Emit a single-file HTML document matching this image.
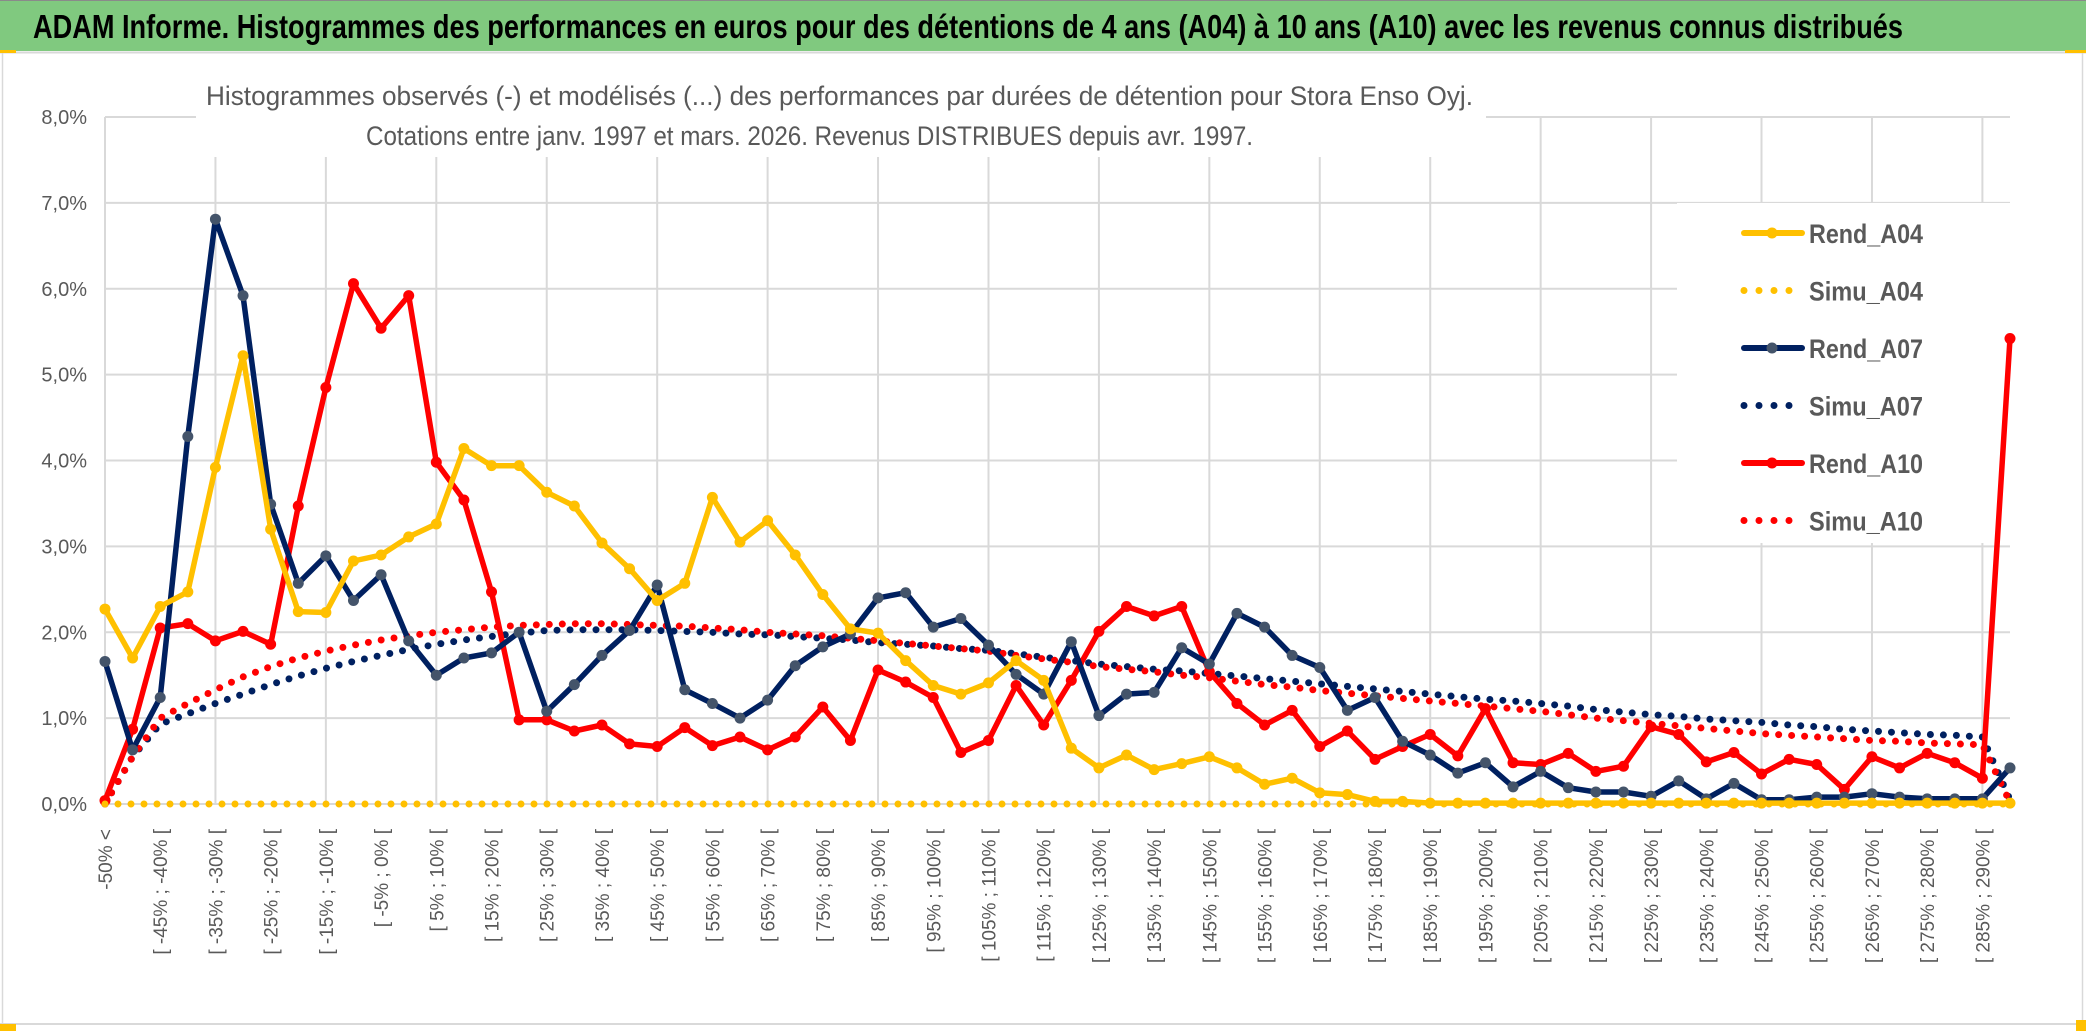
<!DOCTYPE html>
<html><head><meta charset="utf-8"><style>
html,body{margin:0;padding:0;background:#fff;}
svg{display:block;}
text{font-family:"Liberation Sans",sans-serif;}
</style></head><body>
<svg id="chart" xmlns="http://www.w3.org/2000/svg" width="2086" height="1031" viewBox="0 0 2086 1031">
<rect x="0" y="0" width="2086" height="1031" fill="#fff"/>
<rect x="0" y="0" width="2086" height="51" fill="#80C97F"/>
<line x1="0" y1="0.5" x2="2086" y2="0.5" stroke="#8a8a8a" stroke-width="1"/>
<line x1="0" y1="52.5" x2="2086" y2="52.5" stroke="#d9d9d9" stroke-width="2"/>
<rect x="0" y="50" width="16" height="3" fill="#FFC000"/>
<rect x="2065" y="50" width="21" height="3" fill="#FFC000"/>
<line x1="2.5" y1="53" x2="2.5" y2="1024" stroke="#d9d9d9" stroke-width="1.5"/>
<line x1="2082.5" y1="53" x2="2082.5" y2="1024" stroke="#d9d9d9" stroke-width="1.5"/>
<line x1="0" y1="1024" x2="2086" y2="1024" stroke="#d9d9d9" stroke-width="2"/>
<rect x="0" y="1024" width="16" height="7" fill="#FFC000"/>
<rect x="2076" y="1020" width="10" height="11" fill="#FFC000"/>
<text x="33" y="38" font-size="33" font-weight="bold" fill="#000" textLength="1870" lengthAdjust="spacingAndGlyphs">ADAM Informe. Histogrammes des performances en euros pour des détentions de 4 ans (A04) à 10 ans (A10) avec les revenus connus distribués</text>
<g id="grid"></g>
<rect x="196" y="75" width="1290" height="82" fill="#fff"/>
<text x="206" y="105" font-size="27" fill="#595959" textLength="1267" lengthAdjust="spacingAndGlyphs">Histogrammes observés (-) et modélisés (...) des performances par durées de détention pour Stora Enso Oyj.</text>
<text x="366" y="145" font-size="27" fill="#595959" textLength="887" lengthAdjust="spacingAndGlyphs">Cotations entre janv. 1997 et mars. 2026. Revenus DISTRIBUES depuis avr. 1997.</text>
<g id="yticks"></g>
<g id="xticks"></g>
<rect x="1677" y="203" width="335" height="340" fill="#fff"/>
<g id="series"></g>
<g id="legend"></g>
</svg>
<script>
const categoryCount = 70;
const yTicks = [0,1,2,3,4,5,6,7,8];
const rendA04 = [2.27,1.70,2.30,2.47,3.92,5.22,3.20,2.24,2.23,2.83,2.90,3.11,3.26,4.14,3.94,3.94,3.63,3.47,3.04,2.74,2.37,2.57,3.57,3.05,3.30,2.90,2.44,2.04,1.99,1.67,1.38,1.28,1.41,1.67,1.44,0.65,0.42,0.57,0.40,0.47,0.55,0.42,0.23,0.30,0.13,0.11,0.03,0.03,0.01,0.01,0.01,0.01,0.01,0.01,0.01,0.01,0.01,0.01,0.01,0.01,0.01,0.01,0.01,0.01,0.01,0.01,0.01,0.01,0.01,0.01];
const simuA04 = [0,0,0,0,0,0,0,0,0,0,0,0,0,0,0,0,0,0,0,0,0,0,0,0,0,0,0,0,0,0,0,0,0,0,0,0,0,0,0,0,0,0,0,0,0,0,0,0,0,0,0,0,0,0,0,0,0,0,0,0,0,0,0,0,0,0,0,0,0,0];
const rendA07 = [1.66,0.63,1.24,4.28,6.81,5.92,3.49,2.57,2.89,2.37,2.67,1.90,1.50,1.70,1.76,2.00,1.08,1.39,1.73,2.02,2.55,1.33,1.17,1.00,1.21,1.61,1.83,1.98,2.40,2.46,2.06,2.16,1.85,1.51,1.28,1.89,1.03,1.28,1.30,1.82,1.63,2.22,2.06,1.73,1.59,1.09,1.24,0.73,0.57,0.36,0.48,0.20,0.38,0.19,0.14,0.14,0.09,0.27,0.06,0.24,0.05,0.05,0.08,0.08,0.12,0.08,0.06,0.06,0.06,0.42];
const simuA07 = [0,0.55,0.93,1.05,1.17,1.28,1.39,1.49,1.58,1.66,1.73,1.80,1.86,1.91,1.95,1.99,2.02,2.03,2.03,2.03,2.02,2.01,2.00,1.98,1.97,1.95,1.93,1.91,1.88,1.86,1.84,1.81,1.79,1.75,1.71,1.67,1.63,1.60,1.57,1.55,1.52,1.49,1.46,1.43,1.40,1.37,1.34,1.31,1.28,1.25,1.22,1.20,1.17,1.14,1.10,1.07,1.04,1.02,0.99,0.97,0.95,0.92,0.90,0.87,0.85,0.83,0.81,0.80,0.78,0.05];
const rendA10 = [0.04,0.87,2.05,2.10,1.90,2.01,1.86,3.47,4.85,6.06,5.54,5.92,3.98,3.54,2.47,0.98,0.98,0.85,0.92,0.70,0.67,0.89,0.68,0.78,0.63,0.78,1.13,0.74,1.56,1.42,1.24,0.60,0.74,1.38,0.92,1.44,2.01,2.30,2.19,2.30,1.54,1.17,0.92,1.09,0.67,0.85,0.52,0.67,0.81,0.56,1.11,0.48,0.46,0.59,0.38,0.44,0.90,0.81,0.49,0.60,0.35,0.52,0.46,0.17,0.55,0.42,0.59,0.48,0.30,5.42];
const simuA10 = [0,0.55,1.00,1.17,1.33,1.48,1.60,1.70,1.78,1.85,1.91,1.96,2.00,2.03,2.06,2.08,2.09,2.10,2.10,2.09,2.08,2.07,2.05,2.03,2.00,1.98,1.96,1.93,1.90,1.87,1.84,1.81,1.78,1.73,1.69,1.65,1.60,1.57,1.54,1.50,1.47,1.43,1.39,1.36,1.32,1.29,1.26,1.23,1.20,1.17,1.14,1.11,1.08,1.04,1.00,0.97,0.94,0.91,0.88,0.85,0.82,0.80,0.78,0.76,0.74,0.73,0.71,0.70,0.69,0.02];

const NS = 'http://www.w3.org/2000/svg';
const X0 = 105, X1 = 2010, Y0 = 804, PER = 85.875;
function xs(i){ return X0 + i*(X1-X0)/(categoryCount-1); }
function ys(v){ return Y0 - v*PER; }
function mk(tag, attrs, parent){ const e=document.createElementNS(NS,tag); for(const k in attrs) e.setAttribute(k,attrs[k]); parent.appendChild(e); return e; }
function catLabel(i){ if(i===0) return '-50% <'; const a=-50+5*(i-1); return '[ '+a+'% ; '+(a+5)+'% ['; }

const grid=document.getElementById('grid');
yTicks.forEach(t=>{
  const l=mk('line',{x1:X0,x2:X1,y1:ys(t),y2:ys(t),stroke:'#d9d9d9','stroke-width':2},grid);
  
  
});
for(let i=4;i<categoryCount;i+=4){
  const l=mk('line',{x1:xs(i),x2:xs(i),y1:ys(8),y2:Y0,stroke:'#d9d9d9','stroke-width':2},grid);
  
  
}
const ax=mk('line',{x1:X0,x2:X0,y1:ys(8),y2:Y0,stroke:'#d9d9d9','stroke-width':2},grid);



const yt=document.getElementById('yticks');
yTicks.forEach(t=>{
  const e=mk('text',{x:87,y:ys(t)+7,'text-anchor':'end','font-size':20,fill:'#595959'},yt);
  e.textContent=t.toFixed(1).replace('.',',')+'%';
  
  
});
const xt=document.getElementById('xticks');
for(let i=0;i<categoryCount;i+=2){
  const x=xs(i)+7, y=829;
  const e=mk('text',{x:x,y:y,'text-anchor':'end','font-size':19,fill:'#595959','font-family':'"DejaVu Sans",sans-serif',transform:'rotate(-90 '+x+' '+y+')'},xt);
  e.textContent=catLabel(i);
  
  
}

const ser=document.getElementById('series');
function pts(arr){ return arr.map((v,i)=>xs(i).toFixed(1)+','+ys(v).toFixed(1)).join(' '); }
function dotted(arr,color,name){
  const p=mk('polyline',{points:pts(arr),fill:'none',stroke:color,'stroke-width':7,'stroke-linecap':'round','stroke-dasharray':'0 13'},ser);
  
  
}
function solid(arr,color,mcolor,name){
  const p=mk('polyline',{points:pts(arr),fill:'none',stroke:color,'stroke-width':5.5,'stroke-linejoin':'round'},ser);
  
  
  arr.forEach((v,i)=>{
    const c=mk('circle',{cx:xs(i),cy:ys(v),r:5.5,fill:mcolor},ser);
    
    
  });
}
dotted(simuA07,'#002060','simu-a07-line');
dotted(simuA10,'#FF0000','simu-a10-line');
solid(rendA10,'#FF0000','#FF0000','rend-a10-line');
solid(rendA07,'#002060','#44546A','rend-a07-line');
solid(rendA04,'#FFC000','#FFC000','rend-a04-line');
dotted(simuA04,'#FFC000','simu-a04-line');

const lg=document.getElementById('legend');
const entries=[['Rend_A04','#FFC000','#FFC000',false],['Simu_A04','#FFC000','',true],['Rend_A07','#002060','#44546A',false],['Simu_A07','#002060','',true],['Rend_A10','#FF0000','#FF0000',false],['Simu_A10','#FF0000','',true]];
entries.forEach((en,k)=>{
  const cy=233+k*57.5;
  const g=mk('g',{},lg);
  
  
  if(en[3]){
    mk('line',{x1:1744,x2:1800,y1:cy,y2:cy,stroke:en[1],'stroke-width':7,'stroke-linecap':'round','stroke-dasharray':'0 15'},g);
  } else {
    mk('line',{x1:1744,x2:1802,y1:cy,y2:cy,stroke:en[1],'stroke-width':6,'stroke-linecap':'round'},g);
    mk('circle',{cx:1772,cy:cy,r:5.5,fill:en[2]},g);
  }
  const t=mk('text',{x:1809,y:cy+10,'font-size':27,'font-weight':'bold',fill:'#595959',textLength:114,lengthAdjust:'spacingAndGlyphs'},g);
  t.textContent=en[0];
});
</script>
</body></html>
